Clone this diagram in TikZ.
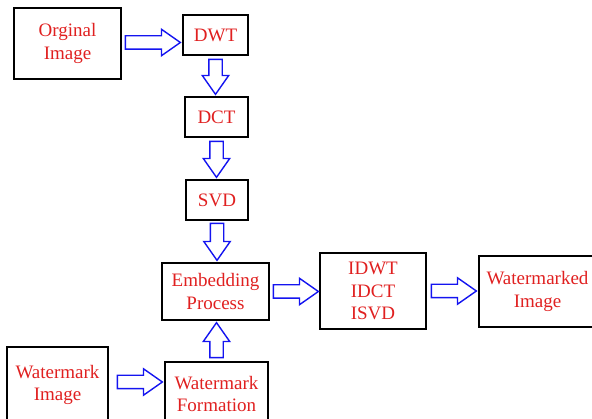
\documentclass[tikz,border=0pt]{standalone}
\usepackage{fontspec}
\setmainfont{Liberation Serif}
\usetikzlibrary{shapes.arrows}

\tikzstyle{box}=[draw=black, line width=1.3pt, inner sep=0pt, align=center, text=boxred, font=\fontsize{19}{22.5}\selectfont]
\tikzstyle{fat-arrow}=[single arrow, draw=arrowblue, line width=1.4pt, fill=white, inner sep=0pt, text width=12pt, text height=12pt, text depth=0pt, minimum width=25pt, single arrow head extend=6.5pt, single arrow tip angle=70, anchor=tail]
\tikzstyle{down-arrow}=[fat-arrow, shape border rotate=270]
\tikzstyle{up-arrow}=[fat-arrow, shape border rotate=90]
\definecolor{boxred}{HTML}{E02020}
\definecolor{arrowblue}{HTML}{1414F0}

\begin{document}
\begin{tikzpicture}[x=1pt, y=-1pt]
      \useasboundingbox (0,0) rectangle (592,419);
      \clip (0,0) rectangle (592,419);

      \node (orig) at (67.5, 43.5)
            [box, minimum width=107pt, minimum height=71pt] {Orginal\\Image};
      \node (dwt) at (215.5, 35)
            [box, minimum width=65pt, minimum height=40pt] {DWT};
      \node (dct) at (216.5, 117)
            [box, minimum width=63pt, minimum height=40pt] {DCT};
      \node (svd) at (217, 200)
            [box, minimum width=62pt, minimum height=40pt] {SVD};
      \node (embed) at (215.5, 291.5)
            [box, minimum width=107pt, minimum height=57pt] {Embedding\\Process};
      \node (inv) at (373, 291)
            [box, minimum width=106pt, minimum height=76pt] {IDWT\\IDCT\\ISVD};
      \node (wmk) at (537.5, 291.5)
            [box, minimum width=117pt, minimum height=71pt] {Watermarked\\Image};
      \node (wm) at (57.5, 385)
            [box, minimum width=101pt, minimum height=76pt] {Watermark\\Image};
      \node (form) at (216.5, 394)
            [box, minimum width=103pt, minimum height=64pt] {Watermark\\Formation};

      \node (arr1) at ([xshift=3pt, yshift=1pt]orig.east) [fat-arrow, minimum height=55pt] {};
      \node (arr2) at ([yshift=-3pt]dwt.south) [down-arrow, minimum height=35pt] {};
      \node (arr3) at ([yshift=-3pt]dct.south) [down-arrow, minimum height=36pt] {};
      \node (arr4) at ([yshift=-2pt]svd.south) [down-arrow, minimum height=37pt] {};
      \node (arr5) at ([yshift=3pt]form.north) [up-arrow, minimum height=35pt] {};
      \node (arr6) at ([xshift=3pt]embed.east) [fat-arrow, minimum height=45pt] {};
      \node (arr7) at ([xshift=4pt]inv.east) [fat-arrow, minimum height=45pt] {};
      \node (arr8) at ([xshift=8pt, yshift=3pt]wm.east) [fat-arrow, minimum height=45pt] {};
\end{tikzpicture}
\end{document}
